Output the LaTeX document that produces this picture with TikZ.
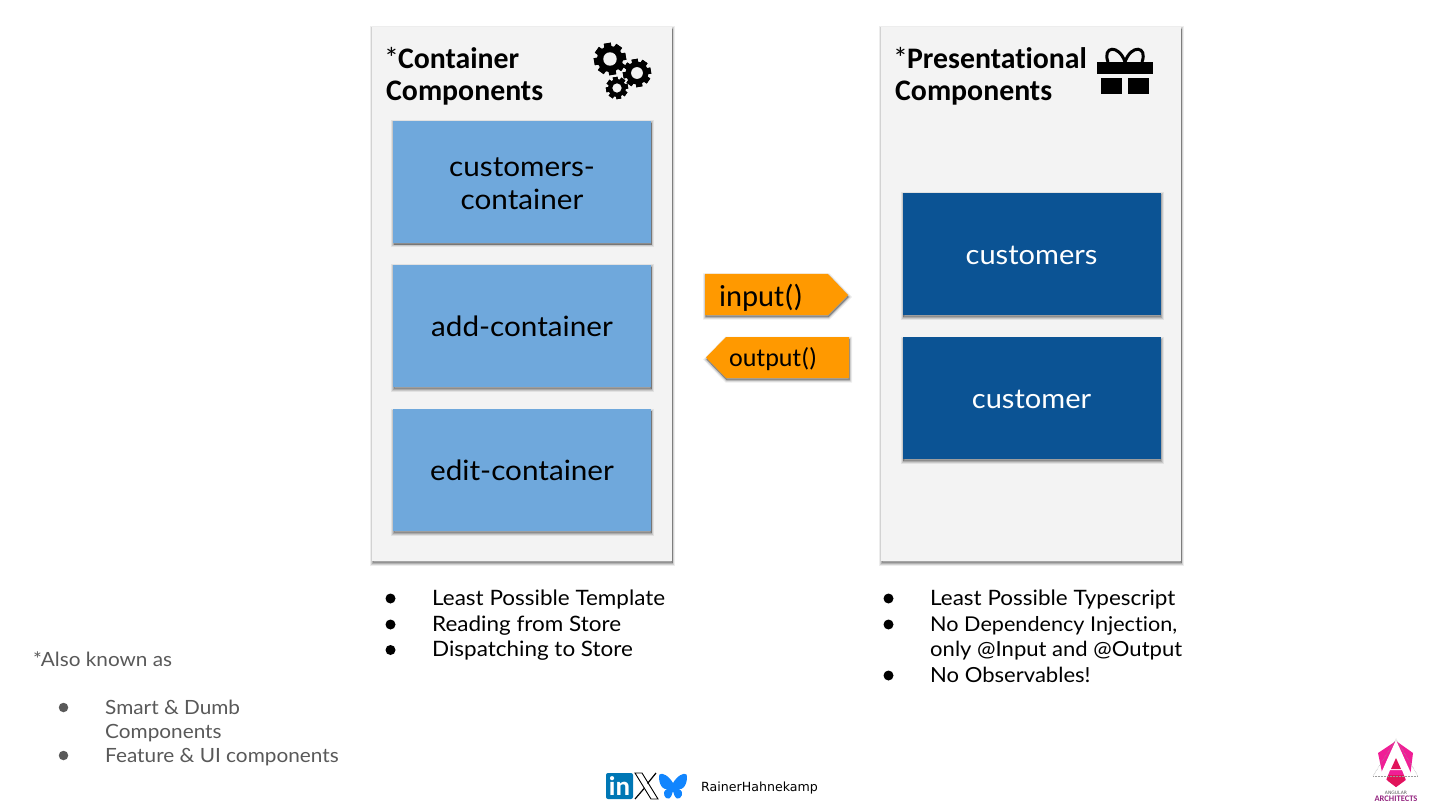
\documentclass[tikz,border=0pt]{standalone}
\usepackage{fontspec}
\setmainfont[FakeStretch=1.06,Ligatures=NoCommon]{Lato}
\newfontfamily\headfont[Ligatures=NoCommon]{Carlito}
\newfontfamily\footfont{DejaVu Sans}
\usetikzlibrary{calc}
\definecolor{aapanel}{RGB}{243,243,243}
\definecolor{aalight}{RGB}{111,168,220}
\definecolor{aadark}{RGB}{11,83,148}
\definecolor{aaorange}{RGB}{255,153,0}
\definecolor{aagrey}{RGB}{89,89,89}
\definecolor{aalinked}{RGB}{0,119,181}
\definecolor{aasky}{RGB}{17,133,254}
\definecolor{aapink}{RGB}{240,30,150}
\definecolor{aared}{RGB}{225,20,90}
\definecolor{aapurple}{RGB}{150,40,130}
\tikzset{
  softshadow/.style={
    preaction={draw=black,fill=black,draw opacity=.07,fill opacity=.07,line width=5pt,transform canvas={xshift=.6pt,yshift=-2pt}},
    preaction={draw=black,fill=black,draw opacity=.11,fill opacity=.11,line width=3pt,transform canvas={xshift=.6pt,yshift=-2pt}},
    preaction={draw=black,fill=black,draw opacity=.15,fill opacity=.15,line width=1pt,transform canvas={xshift=.6pt,yshift=-2pt}}},
  panelbox/.style={fill=aapanel,softshadow,minimum width=300pt,minimum height=534pt,inner sep=0pt},
  lightbox/.style={fill=aalight,softshadow,minimum width=258pt,minimum height=122pt,inner sep=0pt,align=center,
    font=\fontsize{28}{33}\selectfont},
  darkbox/.style={lightbox,fill=aadark,text=white,font=\fontsize{27.4}{33}\selectfont},
  heading/.style={anchor=base west,inner sep=0pt,align=left,font=\headfont\fontsize{29.8}{33}\selectfont\bfseries},
  listtext/.style={anchor=base west,inner sep=0pt,font=\fontsize{21.2}{25}\selectfont},
  notetext/.style={listtext,text=aagrey,font=\fontsize{19.6}{24}\selectfont},
  listdot/.style={fill=black,circle,inner sep=0pt,minimum size=10pt},
  notedot/.style={listdot,fill=aagrey,minimum size=9.5pt},
}
\newcommand{\gearicon}[3]{
  \foreach \a in {0,45,...,315}
    \fill[black,rotate around={\a+10:(#1,#2)}] ($(#1,#2)+(-#3*.22,-#3)$) rectangle ($(#1,#2)+(#3*.22,#3)$);
  \fill[black] (#1,#2) circle[radius=#3*.82];
  \fill[aapanel] (#1,#2) circle[radius=#3*.42];
}
\begin{document}
\begin{tikzpicture}[x=1pt,y=-1pt]
  \useasboundingbox[fill=white] (0,0) rectangle (1440,810);
  \node[panelbox] (containerpanel) at (522,294) {};
  \node[panelbox] (presentpanel) at (1031,294) {};
  \node[heading] (containerhead) at (386,69) {{\mdseries\kern-2pt*\kern-1pt}Container};
  \node[heading] (containerhead2) at (386,101) {Components};
  \node[heading] (presenthead) at (895,69) {{\mdseries\kern-2pt*\kern-1pt}Presentational};
  \node[heading] (presenthead2) at (895,101) {Components};
  \gearicon{610}{59}{16}
  \gearicon{637}{73}{14}
  \gearicon{617}{88}{11}
  \draw[black,line width=3pt] (1125,62) .. controls (1119,44) and (1102,46) .. (1108,62);
  \draw[black,line width=3pt] (1125,62) .. controls (1131,44) and (1148,46) .. (1142,62);
  \fill[black] (1097,62) rectangle (1153,74);
  \fill[black] (1101,78) rectangle (1122,94);
  \fill[black] (1128,78) rectangle (1149,94);
  \node[lightbox] (customerscontainer) at (522,182) {\raisebox{-2pt}[\height][\depth]{customers-}\\\raisebox{-2pt}[\height][\depth]{container}};
  \node[lightbox] (addcontainer) at (522,326) {add-container};
  \node[lightbox] (editcontainer) at (522,470) {edit-container};
  \node[darkbox] (customers) at (1031.5,254) {\raisebox{-1pt}[\height][\depth]{customers}};
  \node[darkbox] (customer) at (1031.5,398) {\raisebox{-1pt}[\height][\depth]{customer}};
  \fill[aaorange,softshadow] (705,274) -- (828,274) -- (848,295) -- (828,315) -- (705,315) -- cycle;
  \fill[aaorange,softshadow] (849,337) -- (726,337) -- (706,357.5) -- (726,378) -- (849,378) -- cycle;
  \node[anchor=base west,inner sep=0pt,font=\headfont\fontsize{30.5}{36}\selectfont] (inputlabel) at (719,306) {input()};
  \node[anchor=base west,inner sep=0pt,font=\headfont\fontsize{26}{30}\selectfont] (outputlabel) at (729,366) {output()};
  \node[listdot] (bulletA) at (390.5,598.5) {};
  \node[listtext] (lineA) at (432,605) {Least Possible Template};
  \node[listdot] (bulletB) at (390.5,624.5) {};
  \node[listtext] (lineB) at (432,631) {Reading from Store};
  \node[listdot] (bulletC) at (390.5,650) {};
  \node[listtext] (lineC) at (432,656) {Dispatching to Store};
  \node[listdot] (bulletD) at (888.5,598.5) {};
  \node[listtext] (lineD) at (930,605) {Least Possible Typescript};
  \node[listdot] (bulletE) at (888.5,624.5) {};
  \node[listtext,font=\fontsize{20.4}{25}\selectfont] (lineE) at (930,631) {No Dependency Injection,};
  \node[listtext,font=\fontsize{20.8}{25}\selectfont] (lineF) at (930,656) {only @Input and @Output};
  \node[listdot] (bulletG) at (888.5,675.5) {};
  \node[listtext,font=\fontsize{20.8}{25}\selectfont] (lineG) at (930,682) {No Observables!};
  \node[notetext] (alsoknown) at (33,666) {*Also known as};
  \node[notedot] (bulletH) at (63.5,707.5) {};
  \node[notetext] (lineH) at (105,714) {Smart \& Dumb};
  \node[notetext] (lineI) at (105,738) {Components};
  \node[notedot] (bulletJ) at (63.5,755.5) {};
  \node[notetext] (lineJ) at (105,762) {Feature \& UI components};
  \fill[aalinked,rounded corners=2pt] (606,773) rectangle (633,799);
  \node[text=white,inner sep=0pt,font=\headfont\bfseries\fontsize{27}{27}\selectfont] (linkedin) at (619.5,786) {in};
  \draw[black,line width=.9pt,line join=miter] (635,773) -- (642,773) -- (658,799) -- (651,799) -- cycle;
  \draw[black,line width=1.2pt] (656,773) -- (647.5,783.5);
  \draw[black,line width=1.2pt] (644.5,788) -- (635,799);
  \fill[aasky] (673,783) .. controls (669,776) and (662,772) .. (659.5,774.5)
    .. controls (658,778) and (660,790) .. (667,789) .. controls (661,792) and (665,800) .. (669,798.5)
    .. controls (671,797.5) and (672.5,794) .. (673,791) .. controls (673.5,794) and (675,797.5) .. (677,798.5)
    .. controls (681,800) and (685,792) .. (679,789) .. controls (686,790) and (688,778) .. (686.5,774.5)
    .. controls (684,772) and (677,776) .. (673,783) -- cycle;
  \node[anchor=base west,inner sep=0pt,font=\footfont\fontsize{12.6}{16}\selectfont] (rainer) at (701,791) {RainerHahnekamp};
  \fill[aapink] (1396,741) -- (1413,753) -- (1410,777) -- (1396,787) -- (1383,777) -- (1378,753) -- cycle;
  \fill[aared] (1385,775) -- (1407,775) -- (1404,781) -- (1396,787) -- (1388,781) -- cycle;
  \fill[white] (1396,740) -- (1414,780) -- (1406,780) -- (1402,770) -- (1390,770) -- (1386,780) -- (1378,780) -- cycle;
  \fill[aared] (1396,758) -- (1401,769) -- (1391,769) -- cycle;
  \draw[aagrey!60,densely dotted,line width=.5pt] (1373,776) -- (1396,739) -- (1418,776);
  \draw[aagrey!60,densely dotted,line width=.5pt] (1373,776) -- (1418,776);
  \node[text=aagrey,inner sep=0pt,font=\footfont\fontsize{4.5}{5}\selectfont] (angularlogo) at (1396,792.5) {ANGULAR};
  \node[text=aapurple,inner sep=0pt,font=\headfont\bfseries\fontsize{8.5}{9}\selectfont] (archlogo) at (1396,798.5) {ARCHITECTS};
\end{tikzpicture}
\end{document}
